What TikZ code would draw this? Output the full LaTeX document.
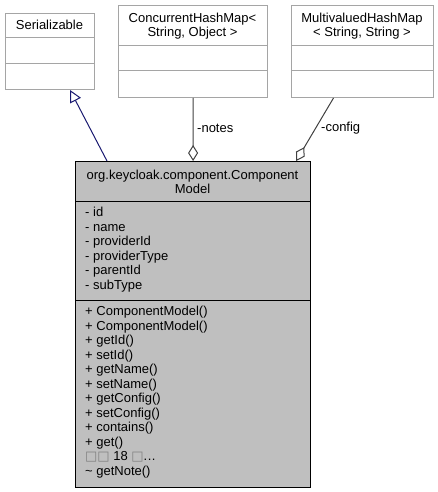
\documentclass[tikz,border=0pt]{standalone}
\usepackage{fontspec}
\setmainfont{Liberation Sans}
\newfontfamily\symfont{DejaVu Sans}
\usepackage{tikz}
\usetikzlibrary{arrows.meta}

\definecolor{boxgray}{RGB}{191,191,191}
\definecolor{edgegray}{RGB}{165,165,165}
\definecolor{linkgray}{RGB}{64,64,64}
\definecolor{inheritblue}{RGB}{25,25,112}

\newcommand{\moreops}{{\symfont\color{gray}□□} 18 {\symfont\color{gray}□}.\kern0.5pt.\kern0.5pt.}

\tikzset{
	emptyclass/.style={rectangle, draw=edgegray, fill=white, line width=1pt, inner sep=0pt, anchor=north west},
	mainclass/.style={rectangle, draw=black, fill=boxgray, line width=1.2pt, inner sep=0pt, anchor=north west},
	txt/.style={font=\fontsize{13}{14.5}\selectfont, inner sep=0pt},
	inherit/.style={draw=inheritblue, line width=1pt, -{Triangle[open, length=12pt, width=12pt]}},
	member/.style={draw=linkgray, line width=1pt, -{Diamond[open, length=16pt, width=10pt]}}
}

\begin{document}
\begin{tikzpicture}[x=1pt,y=-1pt]
		\useasboundingbox (0,0) rectangle (438,492);
		% classes
		\node[emptyclass, minimum width=89pt, minimum height=76pt] (ser) at (5,13) {};
		\node[emptyclass, minimum width=149pt, minimum height=92pt] (chm) at (118,5) {};
		\node[emptyclass, minimum width=142pt, minimum height=92pt] (mvm) at (291,5) {};
		\node[mainclass, minimum width=235pt, minimum height=326pt] (model) at (75,161) {};
		\draw[edgegray, line width=1pt] ([yshift=-25pt]ser.north west) -- ([yshift=-25pt]ser.north east);
		\draw[edgegray, line width=1pt] ([yshift=-51pt]ser.north west) -- ([yshift=-51pt]ser.north east);
		\foreach \b in {chm,mvm} {
			\draw[edgegray, line width=1pt] ([yshift=-41pt]\b.north west) -- ([yshift=-41pt]\b.north east);
			\draw[edgegray, line width=1pt] ([yshift=-66pt]\b.north west) -- ([yshift=-66pt]\b.north east);
		}
		\draw[black, line width=1pt] ([yshift=-40pt]model.north west) -- ([yshift=-40pt]model.north east);
		\draw[black, line width=1pt] ([yshift=-139pt]model.north west) -- ([yshift=-139pt]model.north east);
		% titles
		\node[txt, anchor=base] (sertitle) at (49.5,30) {Serializable};
		\node[txt, anchor=base] (chmtitle1) at (192.5,22.5) {ConcurrentHashMap<};
		\node[txt, anchor=base] (chmtitle2) at (192.5,37) {String, Object >};
		\node[txt, anchor=base] (mvmtitle1) at (362,22.5) {MultivaluedHashMap};
		\node[txt, anchor=base] (mvmtitle2) at (362,37) {< String, String >};
		\node[txt, anchor=base] (modeltitle1) at (192.5,179.5) {org.keycloak.component.Component};
		\node[txt, anchor=base] (modeltitle2) at (192.5,193.5) {Model};
		% attributes and operations
		\foreach \txt [count=\i from 0] in {- id, - name, - providerId, - providerType, - parentId, - subType}
			\node[txt, anchor=base west] (attr\i) at (85,{216.5+14.5*\i}) {\txt};
		\foreach \txt [count=\i from 0] in {+ ComponentModel(), + ComponentModel(), + getId(), + setId(), + getName(), + setName(), + getConfig(), + setConfig(), + contains(), + get(), \moreops, \textasciitilde{} getNote()}
			\node[txt, anchor=base west] (op\i) at (85,{315.5+14.5*\i}) {\txt};
		% relations
		\draw[inherit] ([xshift=32pt]model.north west) -- ([xshift=65pt]ser.south west);
		\draw[member] (chm.south) -- (model.north);
		\draw[member] ([xshift=-29pt]mvm.south) -- ([xshift=-15pt]model.north east);
		\node[txt, anchor=west] (noteslbl) at (197,128) {-notes};
		\node[txt, anchor=west] (configlbl) at (321,128) {-config};
	\end{tikzpicture}
\end{document}
